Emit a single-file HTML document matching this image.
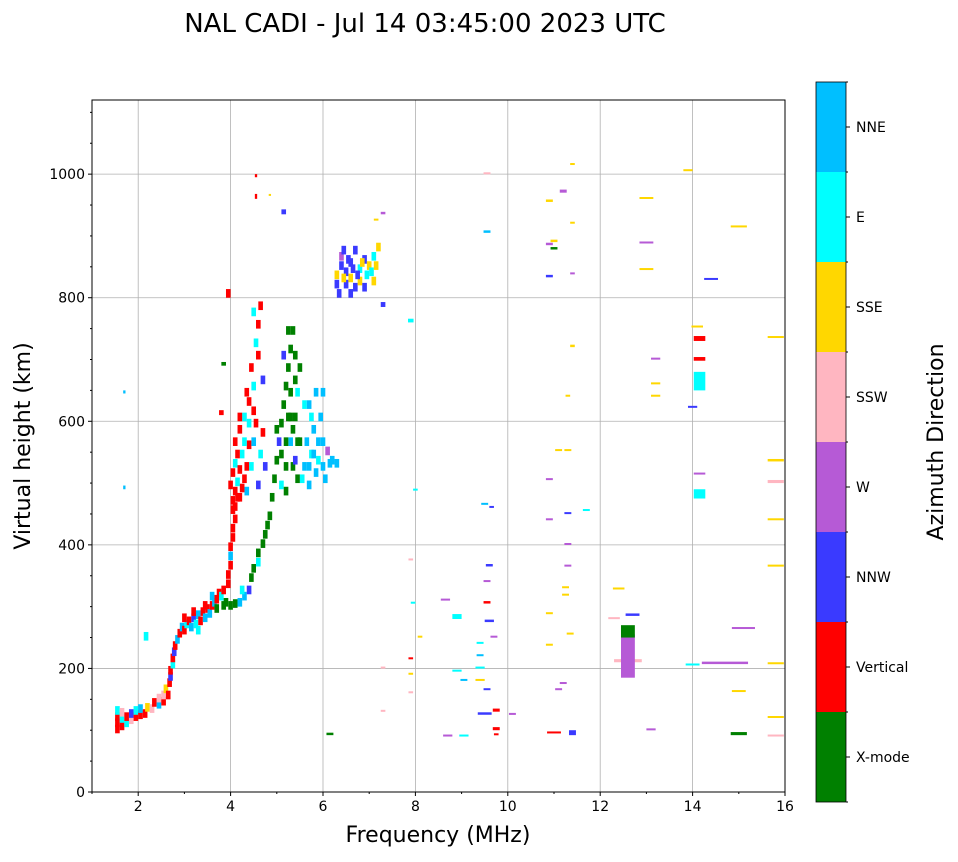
<!DOCTYPE html>
<html><head><meta charset="utf-8"><style>
body{margin:0;background:#fff;font-family:"Liberation Sans","DejaVu Sans",sans-serif;}
svg text{font-family:"DejaVu Sans","Liberation Sans",sans-serif;}
</style></head><body>
<svg id="chart" width="958" height="857" viewBox="0 0 958 857" xmlns="http://www.w3.org/2000/svg">
<rect width="958" height="857" fill="#fff"/>
<text x="425" y="32" font-size="26" text-anchor="middle">NAL CADI - Jul 14 03:45:00 2023 UTC</text>
<g id="grid"></g>
<g id="marks"></g>
<rect x="92" y="100" width="693" height="692" fill="none" stroke="#000" stroke-width="1"/>
<g id="axes"></g>
<text x="438" y="842" font-size="22" text-anchor="middle">Frequency (MHz)</text>
<text transform="translate(30,446) rotate(-90)" font-size="22" text-anchor="middle">Virtual height (km)</text>
<g id="colorbar"></g>
<text transform="translate(943,442) rotate(-90)" font-size="22" text-anchor="middle">Azimuth Direction</text>
</svg>
<script>
const directions = ["X-mode","Vertical","NNW","W","SSW","SSE","E","NNE"];
const dirColors = ["#008000","#ff0000","#3a3aff","#b65ad6","#ffb6c1","#ffd700","#00ffff","#00bfff"];
const xTicks = [2,4,6,8,10,12,14,16];
const yTicks = [0,200,400,600,800,1000];
// main trace echo cells: frequency (MHz), height (km), direction index
const traceFreqs = [1.55,1.55,1.55,1.55,1.65,1.65,1.65,1.75,1.75,1.85,1.85,1.95,1.95,2.05,2.05,2.15,2.2,2.3,2.35,2.45,2.45,2.55,2.55,2.6,2.65,2.68,2.7,2.7,2.75,2.75,2.78,2.8,2.85,2.9,2.95,3.0,3.05,3.1,3.15,3.2,3.25,3.3,3.35,3.4,3.45,3.5,3.55,3.6,3.65,3.7,3.75,3.8,3.85,3.9,3.95,3.95,4.0,4.0,4.0,4.05,4.05,4.1,4.0,4.1,4.2,4.3,4.4,4.45,4.5,4.6,4.6,4.7,4.75,4.8,4.85,
4.05,4.05,4.1,4.15,4.15,4.05,4.1,4.2,4.25,4.3,4.35,4.4,4.45,4.5,4.55,4.6,4.65,4.7,4.75,4.2,4.3,
4.4,4.5,4.45,4.6,4.55,4.6,4.65,4.5,4.7,3.95,
4.9,4.95,5.0,5.05,5.1,5.15,5.2,5.2,5.25,5.3,5.3,5.35,5.4,5.45,5.5,5.1,5.2,5.3,5.35,5.4,5.5,5.45,5.15,5.6,
5.6,5.7,5.75,5.8,5.85,5.9,5.95,6.0,6.05,5.7,6.0,6.15,6.3,6.1,
6.3,6.3,6.4,6.4,6.5,6.5,6.6,6.6,6.7,6.7,6.8,6.8,6.9,6.95,7.0,7.1,7.1,7.2,2.17,
4.1,4.2,4.25,4.0,4.15,4.3,4.35,4.1,4.2,4.4,4.5,4.35,
5.0,5.1,5.25,5.3,5.4,5.35,5.2,5.45,5.25,5.4,
5.65,5.8,5.9,5.75,6.0,6.2,5.85,5.55,5.7,
6.35,6.45,6.55,6.65,6.75,6.85,6.6,6.45,7.05,6.9,7.15,
3.0,3.2,3.3,3.45,3.6,3.7,3.85,4.25];
const traceHeights = [95,105,115,125,100,112,122,105,115,110,120,115,125,118,128,120,130,128,138,135,145,140,150,160,150,170,180,190,200,210,220,230,240,250,260,255,265,270,260,275,265,280,270,285,275,290,282,295,300,305,315,310,320,300,330,345,360,375,390,405,420,435,295,298,300,310,320,340,355,365,380,395,410,425,440,
450,465,480,470,495,510,525,515,540,500,480,555,520,560,590,490,540,575,520,580,600,
625,650,680,700,720,750,780,770,660,800,
470,500,530,560,590,620,650,520,680,710,560,740,600,640,680,490,560,600,520,530,560,500,700,620,
520,490,540,580,510,530,600,560,500,620,640,525,525,545,
815,830,845,860,815,835,850,825,810,870,840,820,855,830,845,860,820,875,245,
455,470,485,490,540,560,520,560,600,590,610,640,
580,540,600,640,660,580,480,560,740,700,
560,540,560,600,520,530,640,500,520,
800,825,855,840,830,850,800,870,835,810,845,
275,285,255,295,310,290,295,320];
const traceDirs = [1,1,1,6,1,6,4,6,1,4,2,1,6,1,7,1,5,4,1,7,4,1,4,5,1,1,2,1,6,1,2,1,7,1,7,1,6,1,7,2,6,7,1,1,7,1,7,1,7,1,1,6,1,0,1,1,1,7,1,1,1,1,0,0,7,7,2,0,0,6,0,0,0,0,0,
1,1,1,1,6,1,6,1,6,1,7,1,6,7,1,2,6,1,2,1,6,
1,6,1,1,6,1,1,6,2,1,
0,0,0,2,0,0,0,0,0,0,7,0,0,6,0,6,0,0,0,2,0,0,2,6,
7,7,6,7,7,6,7,7,7,7,7,7,7,3,
2,5,2,3,2,2,2,5,2,2,6,5,2,6,5,6,5,5,6,
1,1,1,1,1,6,1,1,1,6,1,1,
0,0,0,0,0,0,0,0,0,0,
7,7,7,6,7,7,7,6,7,
2,5,2,2,2,5,2,2,6,2,5,
1,1,6,1,7,0,0,6];
// scattered dashes: frequency (MHz), height (km), freq span (MHz), height span (km), direction index
const dashFreqs = [4.55,4.55,4.85,5.15,3.85,3.8,7.9,1.7,1.7,7.3,7.3,7.15,6.15,
9.55,9.55,10.9,11.0,11.2,11.4,11.4,10.9,11.0,10.9,11.4,11.4,11.3,13.0,13.0,13.0,13.2,13.2,13.2,13.9,14.4,14.15,14.15,14.15,14.0,14.15,14.15,14.1,15.0,15.8,15.8,15.8,15.8,15.8,15.1,14.7,14.0,15.8,15.0,15.0,15.8,15.8,12.6,12.6,12.6,12.7,12.4,12.3,13.1,11.2,11.1,11.4,11.0,11.35,11.25,11.25,11.3,11.3,11.3,10.9,10.9,11.1,11.3,11.7,10.9,10.9,10.1,9.75,9.5,9.75,9.75,9.55,9.4,9.4,9.4,9.4,9.7,9.6,9.55,9.55,9.6,9.5,9.65,9.05,8.9,8.9,8.65,8.7,9.05,8.1,7.95,7.9,8.0,7.9,7.9,7.9,7.3,7.3];
const dashHeights = [995,960,965,935,690,610,760,645,490,785,935,925,92,
1000,905,955,890,970,1015,920,885,878,833,838,720,640,960,888,845,700,660,640,1005,830,730,698,650,622,475,515,752,915,735,535,500,440,365,265,207,205,207,162,92,120,90,210,185,250,285,328,280,100,175,165,92,95,255,318,330,365,400,450,440,505,552,552,455,288,237,125,130,125,100,92,165,180,200,220,240,250,275,305,340,365,465,460,180,195,280,310,90,90,250,305,375,488,215,190,160,200,130];
const dashFSpans = [0.05,0.05,0.05,0.1,0.1,0.1,0.12,0.05,0.05,0.1,0.1,0.1,0.15,
0.15,0.15,0.15,0.15,0.15,0.1,0.1,0.15,0.15,0.15,0.1,0.1,0.1,0.3,0.3,0.3,0.2,0.2,0.2,0.2,0.3,0.25,0.25,0.25,0.2,0.25,0.25,0.25,0.35,0.35,0.35,0.35,0.35,0.35,0.5,1.0,0.3,0.35,0.3,0.35,0.35,0.35,0.6,0.3,0.3,0.3,0.25,0.25,0.2,0.15,0.15,0.15,0.3,0.15,0.15,0.15,0.15,0.15,0.15,0.15,0.15,0.15,0.15,0.15,0.15,0.15,0.15,0.15,0.3,0.15,0.1,0.15,0.2,0.2,0.15,0.15,0.15,0.2,0.15,0.15,0.15,0.15,0.1,0.15,0.2,0.2,0.2,0.2,0.2,0.1,0.1,0.1,0.1,0.1,0.1,0.1,0.1,0.1];
const dashHSpans = [5,8,3,8,6,8,6,5,6,8,4,3,4,
3,4,4,4,5,3,3,4,4,4,3,4,3,3,3,3,3,3,3,3,2,8,6,30,3,15,2,3,2,3,4,5,3,3,2,4,3,3,3,5,3,3,5,70,20,4,3,3,3,3,3,8,3,3,3,3,3,3,3,3,3,3,3,3,3,3,3,5,4,5,3,3,3,3,3,3,3,4,4,3,4,3,3,3,3,8,3,3,3,3,3,3,3,3,3,3,3,3];
const dashDirs = [1,1,5,2,0,1,6,7,7,2,3,5,0,
4,7,5,5,3,5,5,3,0,2,3,5,5,5,3,5,3,5,5,5,2,1,1,6,2,6,3,5,5,5,5,4,5,5,3,3,6,5,5,0,5,4,4,3,0,2,5,4,3,3,3,2,1,5,5,5,3,3,2,3,3,5,5,6,5,5,3,1,2,1,1,2,5,6,7,6,3,2,1,3,2,7,2,7,6,6,3,3,6,5,6,4,6,1,5,4,4,4];

const NS="http://www.w3.org/2000/svg";
const X0=92,X1=785,Y0=792,Y1=100,FMIN=1,FMAX=16,HMIN=0,HMAX=1120;
const CELL_F=0.1,CELL_H=14;
function xScale(f){return X0+(f-FMIN)/(FMAX-FMIN)*(X1-X0);}
function yScale(h){return Y0-(h-HMIN)/(HMAX-HMIN)*(Y0-Y1);}
function mk(tag,attrs,parent){const e=document.createElementNS(NS,tag);for(const k in attrs)e.setAttribute(k,attrs[k]);parent.appendChild(e);return e;}
const grid=document.getElementById('grid'),axes=document.getElementById('axes'),marks=document.getElementById('marks'),cb=document.getElementById('colorbar');
xTicks.forEach(t=>{const x=xScale(t);
 const g=mk('line',{x1:x,x2:x,y1:Y1,y2:Y0,stroke:'#b0b0b0','stroke-width':0.8},grid);
 
 
 mk('line',{x1:x,x2:x,y1:Y0,y2:Y0+4,stroke:'#000'},axes);
 const tx=mk('text',{x:x,y:Y0+19,'font-size':14,'text-anchor':'middle'},axes);tx.textContent=t;
 
 
});
for(let f=1;f<=16;f+=1){if(f%2){const x=xScale(f);mk('line',{x1:x,x2:x,y1:Y0,y2:Y0+2,stroke:'#000'},axes);}}
yTicks.forEach(t=>{const y=yScale(t);
 const g=mk('line',{x1:X0,x2:X1,y1:y,y2:y,stroke:'#b0b0b0','stroke-width':0.8},grid);
 
 
 mk('line',{x1:X0-4,x2:X0,y1:y,y2:y,stroke:'#000'},axes);
 const tx=mk('text',{x:X0-7,y:y+5,'font-size':14,'text-anchor':'end'},axes);tx.textContent=t;
 
 
});
for(let h=0;h<=1100;h+=50){if(h%200){const y=yScale(h);mk('line',{x1:X0-2,x2:X0,y1:y,y2:y,stroke:'#000'},axes);}}
function cell(f,h,fw,hh,d,name){
 const di=(d===undefined)?0:d;
 const x=xScale(f-fw/2),x2=xScale(f+fw/2);
 const y=yScale(h+hh),y2=yScale(h);
 const r=mk('rect',{x:x,y:y,width:Math.max(x2-x,2),height:Math.max(y2-y,2),fill:dirColors[di]},marks);
 
 
}
for(let i=0;i<traceFreqs.length;i++){cell(traceFreqs[i],traceHeights[i],CELL_F,CELL_H,traceDirs[i],'trace-cell');}
for(let i=0;i<dashFreqs.length;i++){cell(dashFreqs[i],dashHeights[i],dashFSpans[i],dashHSpans[i],dashDirs[i],'echo-dash');}
const CBX=816,CBW=30,CBT=82,CBB=802,bh=(CBB-CBT)/directions.length;
directions.forEach((d,i)=>{const y=CBB-(i+1)*bh;
 const r=mk('rect',{x:CBX,y:y,width:CBW,height:bh,fill:dirColors[i]},cb);
 
 
 const cy=y+bh/2;
 mk('line',{x1:CBX+CBW,x2:CBX+CBW+4,y1:cy,y2:cy,stroke:'#000'},cb);
 const t=mk('text',{x:CBX+CBW+10,y:cy+5,'font-size':14},cb);t.textContent=d;
 
 
});
for(let i=0;i<=directions.length;i++){const y=CBB-i*bh;mk('line',{x1:CBX+CBW,x2:CBX+CBW+2,y1:y,y2:y,stroke:'#000'},cb);}
const fr=mk('rect',{x:CBX,y:CBT,width:CBW,height:CBB-CBT,fill:'none',stroke:'#000','stroke-width':0.8},cb);


</script>
</body></html>
